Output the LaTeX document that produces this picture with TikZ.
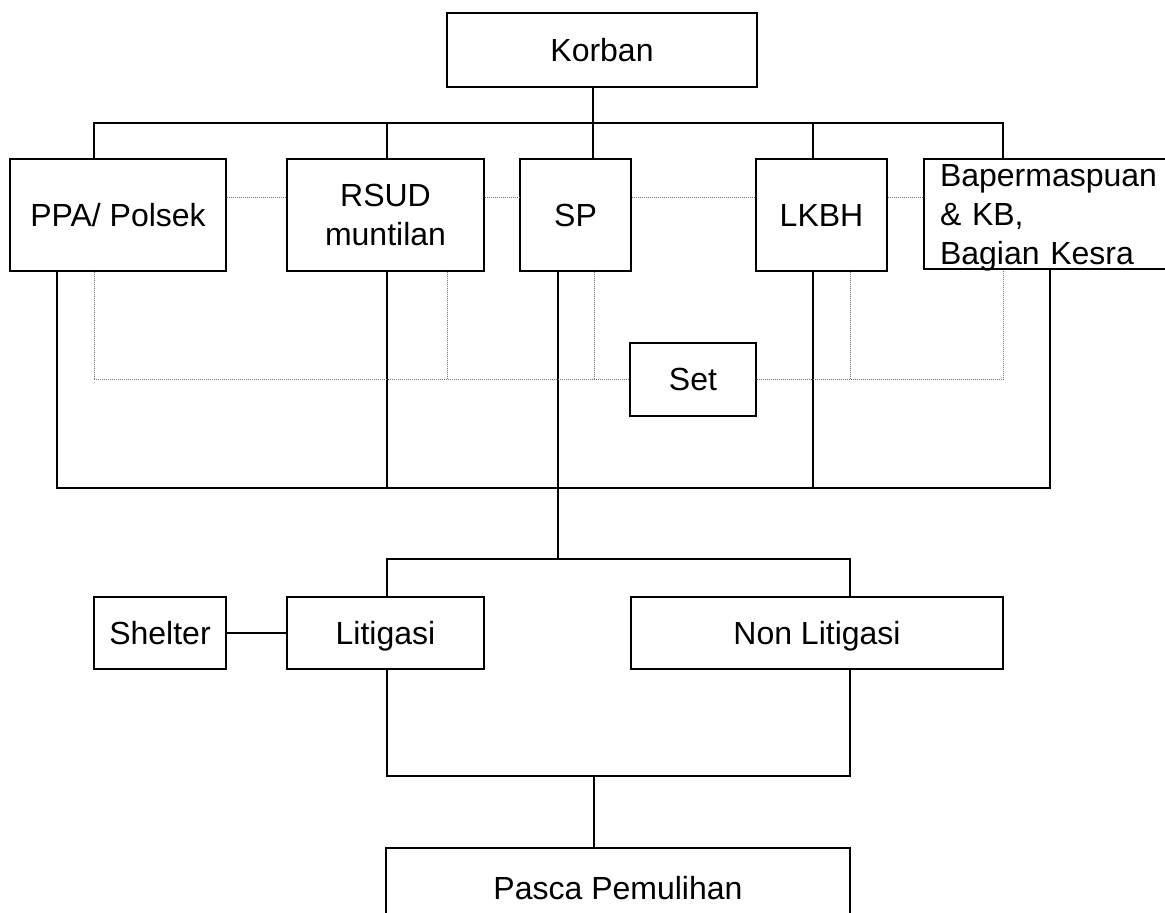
\documentclass[tikz,border=0pt]{standalone}
\usepackage{fontspec}
\setmainfont{Liberation Sans}
\begin{document}
\begin{tikzpicture}[x=1pt,y=-1pt,
  box/.style={draw, line width=1.6pt, inner sep=0pt, font=\fontsize{32}{39}\selectfont, align=center},
  link/.style={line width=1.6pt},
  dots/.style={line width=1pt, black!55, dash pattern=on 1pt off 1pt}]
\useasboundingbox (0,0) rectangle (1165,913);
\clip (0,0) rectangle (1165,913);
% boxes
\node[box, minimum width=310pt, minimum height=74pt] (korban) at (602,50) {Korban};
\node[box, minimum width=216pt, minimum height=112pt, text depth=0pt] (ppa) at (118,215) {PPA/ Polsek};
\node[box, minimum width=197pt, minimum height=112pt] (rsud) at (385.5,215) {RSUD\\muntilan};
\node[box, minimum width=111pt, minimum height=112pt] (sp) at (575.5,215) {SP};
\node[box, minimum width=131pt, minimum height=112pt] (lkbh) at (821.5,215) {LKBH};
\node[box, minimum width=276pt, minimum height=110pt, text width=244pt, align=left] (bap) at (1062,214) {Bapermaspuan\\\& KB,\\\smash{Bagian Kesra}};
\node[box, minimum width=126pt, minimum height=73pt] (set) at (693,379.5) {Set};
\node[box, minimum width=132pt, minimum height=72pt] (shelter) at (160,633) {Shelter};
\node[box, minimum width=197pt, minimum height=72pt, text depth=0pt] (litigasi) at (385.5,633) {Litigasi};
\node[box, minimum width=372pt, minimum height=72pt, text depth=0pt] (nonlit) at (817,633) {Non Litigasi};
\node[box, minimum width=464pt, minimum height=80pt] (pasca) at (618,888) {Pasca Pemulihan};
% top bus
\coordinate (tb1) at (94,123);
\coordinate (tb2) at (387,123);
\coordinate (tb3) at (593,123);
\coordinate (tb4) at (813,123);
\coordinate (tb5) at (1003,123);
\draw[link] (korban.south -| tb3) -- (sp.north -| tb3);
\draw[link] (ppa.north -| tb1) -- (tb1) -- (tb5) -- (bap.north -| tb5);
\draw[link] (tb2) -- (rsud.north -| tb2);
\draw[link] (tb4) -- (lkbh.north -| tb4);
% bottom bus
\coordinate (bb1) at (57,488);
\coordinate (bb2) at (387,488);
\coordinate (bb4) at (813,488);
\coordinate (bb5) at (1050,488);
\draw[link] (ppa.south -| bb1) -- (bb1) -- (bb5) -- (bap.south -| bb5);
\draw[link] (rsud.south -| bb2) -- (bb2);
\draw[link] (lkbh.south -| bb4) -- (bb4);
% middle bus
\coordinate (mb1) at (387,559);
\coordinate (mb2) at (558,559);
\coordinate (mb3) at (850,559);
\draw[link] (sp.south -| mb2) -- (mb2);
\draw[link] (litigasi.north -| mb1) -- (mb1) -- (mb3) -- (nonlit.north -| mb3);
\draw[link] (shelter) -- (litigasi);
% lower bus
\coordinate (lb1) at (387,776);
\coordinate (lb2) at (594,776);
\coordinate (lb3) at (850,776);
\draw[link] (litigasi.south -| lb1) -- (lb1) -- (lb3) -- (nonlit.south -| lb3);
\draw[link] (lb2) -- (pasca.north -| lb2);
% dotted links between top boxes
\coordinate (dl) at (0,197);
\draw[dots] (ppa.east |- dl) -- (rsud.west |- dl);
\draw[dots] (rsud.east |- dl) -- (sp.west |- dl);
\draw[dots] (sp.east |- dl) -- (lkbh.west |- dl);
\draw[dots] (lkbh.east |- dl) -- (bap.west |- dl);
% dotted links to Set
\coordinate (d1) at (94,379.5);
\coordinate (d2) at (447,379.5);
\coordinate (d3) at (594,379.5);
\coordinate (d4) at (850,379.5);
\coordinate (d5) at (1003,379.5);
\draw[dots] (ppa.south -| d1) -- (d1) -- (set.west);
\draw[dots] (set.east) -- (d5) -- (bap.south -| d5);
\draw[dots] (rsud.south -| d2) -- (d2);
\draw[dots] (sp.south -| d3) -- (d3);
\draw[dots] (lkbh.south -| d4) -- (d4);
\end{tikzpicture}
\end{document}
